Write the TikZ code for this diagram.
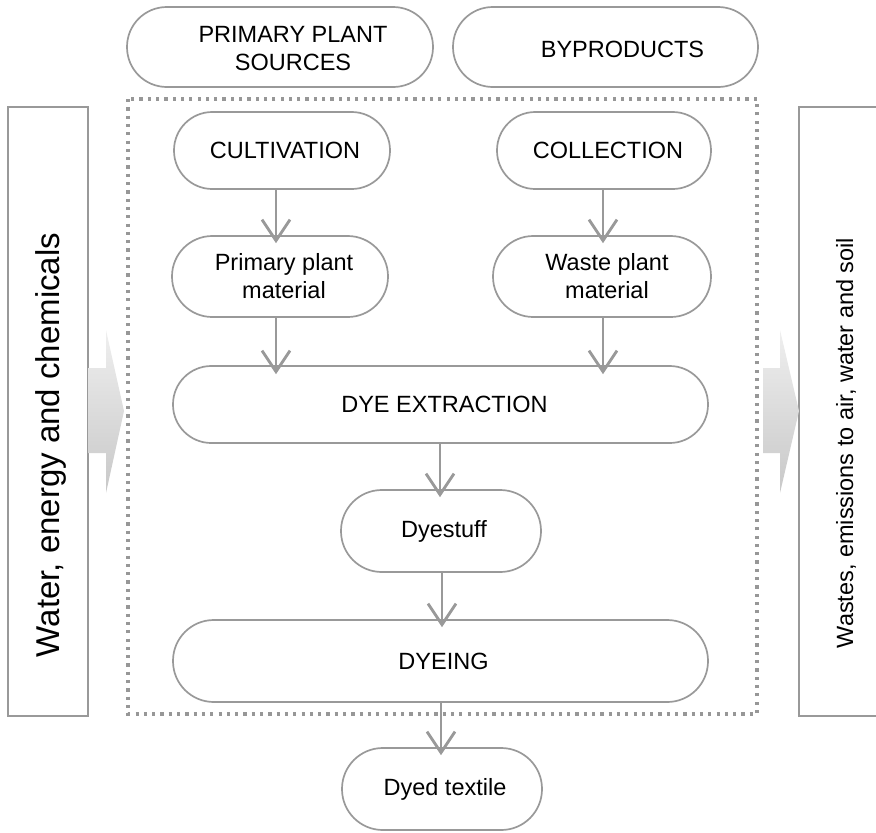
\documentclass[tikz,border=0pt]{standalone}
\usepackage{fontspec}
\setmainfont{Liberation Sans}
\usetikzlibrary{arrows.meta}
\definecolor{edgegray}{HTML}{999999}
\definecolor{dotgray}{HTML}{979797}
\definecolor{flowlight}{HTML}{EFEFEF}
\definecolor{flowdark}{HTML}{C8C8C8}

\tikzset{
  pill/.style n args={2}{draw=edgegray, line width=1.7pt, fill=white,
    minimum width=#1, minimum height=#2, rounded corners=#2/2-0.2,
    inner sep=0pt},
  pilltext/.style={align=center, inner sep=0pt, text=black,
    font=\fontsize{23.5}{28}\selectfont},
  flow/.style={draw=edgegray, line width=2.8pt,
    -{Straight Barb[length=21pt, width=28pt, line width=2.8pt]}},
  sidebar/.style={draw=edgegray, line width=1.7pt, fill=white},
  bigarrow/.style={top color=flowlight, bottom color=flowdark},
  boundary/.style={draw=dotgray, line width=3.2pt, dash pattern=on 3.2pt off 5.1pt},
}

\begin{document}
\begin{tikzpicture}[x=1pt, y=-1pt]
\useasboundingbox (0,0) rectangle (876,833);
\clip (0,0) rectangle (876,833);

% side bars for inputs and outputs
\path[sidebar] (8,107) rectangle (88,716);
\path[sidebar] (890,107) -- (799,107) -- (799,716) -- (890,716);
\node[rotate=90, font=\fontsize{33}{38}\selectfont] (inputs) at (51,445)
  {Water, energy and chemicals};
\node[rotate=90, font=\fontsize{23.5}{28}\selectfont] (outputs) at (846,443)
  {Wastes, emissions to air, water and soil};

% broad flow arrows into and out of the process boundary
\shade[bigarrow] (88,368) -- (106,368) -- (106,330) -- (124,411)
  -- (106,493) -- (106,453) -- (88,453) -- cycle;
\shade[bigarrow] (763,368) -- (780,368) -- (780,330) -- (799,411)
  -- (780,493) -- (780,453) -- (763,453) -- cycle;

% process boundary
\path[boundary] (128,99) rectangle (757,714);

% source categories
\node[pill={306}{80}, label={[pilltext, xshift=13, yshift=-2]center:{PRIMARY PLANT\\SOURCES}}]
  (primsrc) at (280,47) {};
\node[pill={305}{80}, label={[pilltext, xshift=17, yshift=-2]center:BYPRODUCTS}]
  (byprod) at (605.5,47) {};

% process steps
\node[pill={216}{77}, label={[pilltext, xshift=3]center:CULTIVATION}]
  (cult) at (282,150.5) {};
\node[pill={214}{77}, label={[pilltext, xshift=4]center:COLLECTION}]
  (coll) at (604,150.5) {};
\node[pill={216}{81}, label={[pilltext, xshift=4]center:{Primary plant\\material}}]
  (primmat) at (280,276.5) {};
\node[pill={218}{81}, label={[pilltext, xshift=5]center:{Waste plant\\material}}]
  (wastemat) at (602,276.5) {};
\node[pill={535}{77}, label={[pilltext, xshift=4]center:DYE EXTRACTION}]
  (extract) at (440.5,404.5) {};
\node[pill={200}{82}, label={[pilltext, xshift=3]center:Dyestuff}]
  (dyestuff) at (441,531) {};
\node[pill={535}{82}, label={[pilltext, xshift=3]center:DYEING}]
  (dyeing) at (440.5,661) {};
\node[pill={200}{82}, label={[pilltext, xshift=3]center:Dyed textile}]
  (textile) at (442,789) {};

% connectors
\draw[flow] (cult.south -| 276,0) -- ([yshift=-8]primmat.north -| 276,0);
\draw[flow] (primmat.south -| 276,0) -- ([yshift=-9]extract.north -| 276,0);
\draw[flow] (coll.south -| 603,0) -- ([yshift=-8]wastemat.north -| 603,0);
\draw[flow] (wastemat.south -| 603,0) -- ([yshift=-9]extract.north -| 603,0);
\draw[flow] (extract.south -| 440,0) -- ([yshift=-8]dyestuff.north -| 440,0);
\draw[flow] (dyestuff.south -| 442,0) -- ([yshift=-8]dyeing.north -| 442,0);
\draw[flow] (dyeing.south -| 441,0) -- ([yshift=-8]textile.north -| 441,0);
\end{tikzpicture}
\end{document}
